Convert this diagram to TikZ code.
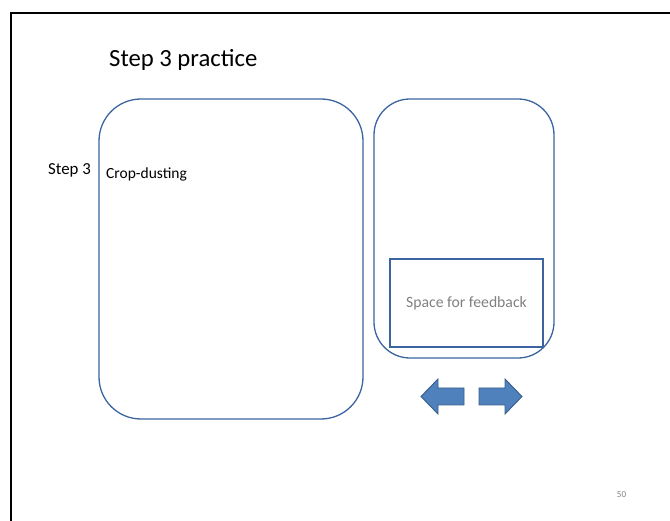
\documentclass[tikz,border=0pt]{standalone}
\usepackage{fontspec}
\setmainfont{Carlito}
\definecolor{panelline}{RGB}{59,100,160}
\definecolor{arrowfill}{RGB}{79,129,189}
\definecolor{arrowline}{RGB}{56,93,138}
\definecolor{hintgray}{RGB}{128,128,128}
\begin{document}
\begin{tikzpicture}[x=1pt,y=-1pt,
  panel/.style={draw=panelline,line width=1.3pt,inner sep=0pt},
  arrowshape/.style={fill=arrowfill,draw=arrowline,line width=0.9pt,line join=miter}]
\useasboundingbox (0,0) rectangle (670,521);
% slide frame
\draw[line width=2pt] (11,521) -- (11,13) -- (671,13);
% title
\node[anchor=base west,inner sep=0pt,font=\fontsize{24.7}{29}\selectfont] (title) at (109,67) {Step 3 practice};
% main panels
\node[panel,rounded corners=42pt,minimum width=264pt,minimum height=320pt] (left) at (231,259) {};
\node[panel,rounded corners=36pt,minimum width=180pt,minimum height=259pt] (right) at (464,228.5) {};
\node[panel,rounded corners=0pt,minimum width=153pt,minimum height=88pt] (feedback) at (466.5,303) {};
\node[text=hintgray,font=\fontsize{15.7}{18}\selectfont,inner sep=0pt] (fbtext) at (466.5,303) {Space for feedback};
% labels
\node[anchor=west,inner sep=0pt,font=\fontsize{16.8}{20}\selectfont] (steplbl) at (48,170) {Step 3};
\node[anchor=west,inner sep=0pt,font=\fontsize{15.5}{18}\selectfont] (crop) at (106,174) {Crop-dusting};
% navigation arrows
\draw[arrowshape] (421,396.5) -- (438,379) -- (438,388) -- (464,388) -- (464,405) -- (438,405) -- (438,414) -- cycle;
\draw[arrowshape] (522,396.5) -- (505,379) -- (505,388) -- (479,388) -- (479,405) -- (505,405) -- (505,414) -- cycle;
% page number
\node[text=hintgray,font=\fontsize{9}{11}\selectfont,inner sep=0pt] (pagenum) at (621.5,495) {50};
\end{tikzpicture}
\end{document}
